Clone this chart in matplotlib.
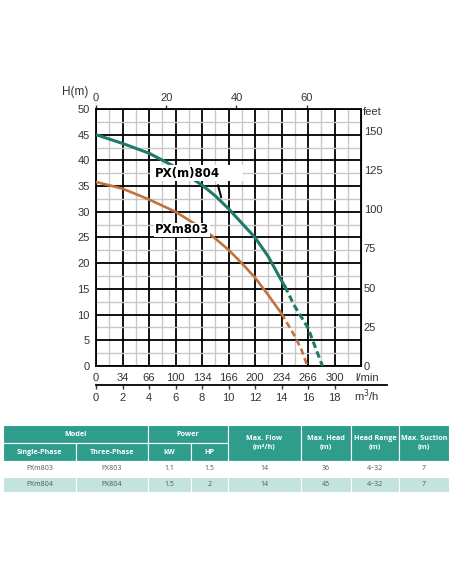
import matplotlib
matplotlib.use("Agg")
import matplotlib.pyplot as plt
from matplotlib.patches import Rectangle
from matplotlib.lines import Line2D

plt.rcParams['font.family'] = ['Liberation Sans', 'DejaVu Sans']

# curve data (flow in m3/h, head in m)
q_804 = [0, 2, 4, 5.7, 8, 9, 10, 11, 12, 13, 14, 14.25]
h_804 = [45.0, 43.3, 41.4, 39.1, 35.2, 33.1, 30.6, 27.8, 25.0, 21.3, 16.6, 15.5]
q_804_dash = [14.25, 15, 16, 17, 17.1]
h_804_dash = [15.5, 11.6, 7.4, 0.6, 0.0]

q_803 = [0, 2, 4, 6, 8, 9, 10, 11, 12, 13, 14]
h_803 = [35.8, 34.5, 32.4, 30.0, 26.8, 24.8, 22.6, 20.0, 17.2, 13.8, 10.2]
q_803_dash = [14, 15, 15.5, 15.95]
h_803_dash = [10.2, 5.8, 3.2, 0.0]

# axis ticks
m3h_ticks = [0, 2, 4, 6, 8, 10, 12, 14, 16, 18]
lmin_labels = ['0', '34', '66', '100', '134', '166', '200', '234', '266', '300']
feet_ticks = [0, 25, 50, 75, 100, 125, 150]
top_ticks = [0, 20, 40, 60]
top_factor = 0.265  # m3/h per top-axis unit

# table
col_edges = [3, 76, 148, 191, 228, 301, 351, 399, 449]
row_edges = [425, 443, 461, 477, 492]
header_top = [("Model", 0, 2), ("Power", 2, 4)]
header_tall = [("Max. Flow\n(m³/h)", 4), ("Max. Head\n(m)", 5),
               ("Head Range\n(m)", 6), ("Max. Suction\n(m)", 7)]
header_sub = ["Single-Phase", "Three-Phase", "kW", "HP"]
rows = [["PXm803", "PX803", "1.1", "1.5", "14", "36", "4~32", "7"],
        ["PXm804", "PX804", "1.5", "2", "14", "45", "4~32", "7"]]

teal = '#1f7a6a'
orange = '#c0733e'
head_col = '#2e9d8b'
row2_col = '#c3e3de'

fig = plt.figure(figsize=(4.52, 5.84), dpi=100)
ax = fig.add_axes([0.2124, 0.3733, 0.5863, 0.4401])
ax.set_xlim(0, 20)
ax.set_ylim(0, 50)

ax.set_xticks(m3h_ticks)
ax.set_xticks(range(0, 21), minor=True)
ax.set_yticks(range(0, 51, 5))
ax.set_yticks([y * 2.5 for y in range(21)], minor=True)
ax.set_xticklabels(lmin_labels)
ax.grid(which='minor', color='#c8c8c8', lw=1.0)
ax.grid(which='major', color='black', lw=1.3)
ax.set_axisbelow(True)
ax.tick_params(which='both', length=0)
ax.tick_params(axis='x', pad=5, labelsize=8, colors='#333333')
ax.tick_params(axis='y', pad=4.5, labelsize=8, colors='#333333')
for s in ax.spines.values():
    s.set_linewidth(1.3)

# curves
ax.plot(q_804, h_804, color=teal, lw=2.2, solid_joinstyle='round', zorder=3)
ax.plot(q_804_dash, h_804_dash, color=teal, lw=2.2, ls=(0, (2.2, 1.2)), zorder=3)
ax.plot(q_803, h_803, color=orange, lw=1.9, solid_joinstyle='round', zorder=3)
ax.plot(q_803_dash, h_803_dash, color=orange, lw=1.9, ls=(0, (2.4, 1.4)), zorder=3)

# labels
ax.add_patch(Rectangle((4.1, 35.9), 7.0, 3.2, facecolor='white', edgecolor='none', zorder=4))
ax.text(4.45, 37.4, "PX(m)804", fontsize=8.5, fontweight='bold', family='DejaVu Sans',
        va='center', ha='left', zorder=5)
ax.annotate("", xy=(9.5, 32.3), xytext=(9.15, 35.7),
            arrowprops=dict(arrowstyle='-', color='black', lw=1.5), zorder=5)
ax.text(4.45, 26.5, "PXm803", fontsize=8.5, fontweight='bold', family='DejaVu Sans',
        va='center', ha='left', zorder=5,
        bbox=dict(facecolor='white', edgecolor='none', pad=0.5))

# right axis in feet
sec_r = ax.secondary_yaxis('right', functions=(lambda m: m / 0.3048, lambda f: f * 0.3048))
sec_r.set_yticks(feet_ticks)
sec_r.tick_params(length=0, pad=2, labelsize=8, colors='#333333')

# top axis
sec_t = ax.secondary_xaxis('top', functions=(lambda q: q / top_factor, lambda g: g * top_factor))
sec_t.set_xticks(top_ticks)
sec_t.tick_params(length=3, width=1, pad=1.5, labelsize=8, colors='#333333')
sec_t.spines['top'].set_visible(False)

# second bottom axis in m3/h
sec_b = ax.secondary_xaxis(-0.074)
sec_b.set_xticks(m3h_ticks)
sec_b.tick_params(length=3, width=1, pad=2.5, labelsize=8, colors='#333333', direction='out')
sec_b.spines['bottom'].set_visible(False)
ax.add_line(Line2D([0, 1.098], [-0.074, -0.074], transform=ax.transAxes, color='black',
                   lw=1.3, clip_on=False))

ax.text(-0.079, 1.066, "H(m)", transform=ax.transAxes, ha='center', va='center',
        fontsize=8.5, color='#333333')
ax.text(1.008, 0.988, "feet", transform=ax.transAxes, ha='left', va='center',
        fontsize=8, color='#333333')
ax.text(1.021, -0.045, "l/min", transform=ax.transAxes, ha='center', va='center',
        fontsize=8, color='#333333')
ax.text(1.023, -0.116, "m$^3$/h", transform=ax.transAxes, ha='center', va='center',
        fontsize=8, color='#333333')

# table
tax = fig.add_axes([0, 0, 1, 1])
tax.set_xlim(0, 452)
tax.set_ylim(584, 0)
tax.axis('off')

def cell(c0, c1, r0, r1, color, label, text_color, bold):
    x0, x1 = col_edges[c0], col_edges[c1]
    y0, y1 = row_edges[r0], row_edges[r1]
    tax.add_patch(Rectangle((x0, y0), x1 - x0, y1 - y0, facecolor=color,
                            edgecolor='white', lw=0.8))
    tax.text((x0 + x1) / 2, (y0 + y1) / 2, label, ha='center', va='center',
             fontsize=5.2 if bold else 5, color=text_color, family='Open Sans',
             fontweight='bold' if bold else 'normal', linespacing=1.6)

for label, c0, c1 in header_top:
    cell(c0, c1, 0, 1, head_col, label, 'white', True)
for label, c in header_tall:
    cell(c, c + 1, 0, 2, head_col, label, 'white', True)
for i, label in enumerate(header_sub):
    cell(i, i + 1, 1, 2, head_col, label, 'white', True)
for r, row in enumerate(rows):
    for c, val in enumerate(row):
        cell(c, c + 1, 2 + r, 3 + r, 'white' if r == 0 else row2_col, val, '#555555', False)

fig.savefig("out.png", dpi=100)
